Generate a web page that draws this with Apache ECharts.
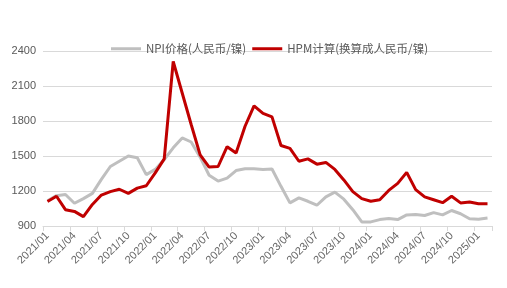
<!DOCTYPE html>
<html>
<head>
<meta charset="utf-8">
<script src="https://cdn.jsdelivr.net/npm/echarts@6/dist/echarts.min.js"></script>
<style>html,body{margin:0;padding:0;background:#fff;}#c{width:507px;height:288px;}</style>
</head>
<body>
<div id="c"></div>
<script>
var categories = [];
(function(){ for (var y = 2021; y <= 2025; y++) for (var m = 1; m <= 12; m++) { if (y === 2025 && m > 2) break; categories.push(y + '/' + (m < 10 ? '0' + m : m)); } })();

var npiName = 'NPI价格(人民币/镍)';
var hpmName = 'HPM计算(换算成人民币/镍)';

var npiValues = [1115, 1160, 1170, 1095, 1135, 1180, 1300, 1410, 1455, 1500, 1485, 1340,
                 1385, 1470, 1570, 1655, 1620, 1490, 1335, 1285, 1310, 1375, 1390, 1390,
                 1385, 1388, 1240, 1098, 1141, 1112, 1078, 1150, 1190, 1130, 1040, 935,
                 935, 955, 965, 955, 995, 998, 990, 1015, 995, 1033, 1005, 962,
                 958, 968];
var hpmValues = [1110, 1155, 1040, 1025, 980, 1085, 1165, 1195, 1215, 1180, 1225, 1245,
                 1355, 1475, 2310, 2040, 1770, 1510, 1405, 1410, 1580, 1525, 1755, 1930,
                 1865, 1835, 1590, 1565, 1455, 1475, 1430, 1445, 1385, 1295, 1195, 1135,
                 1112, 1125, 1205, 1265, 1360, 1212, 1150, 1125, 1100, 1155, 1098, 1105,
                 1090, 1090];
var yTicks = {min: 900, max: 2400, interval: 300};

var chart = echarts.init(document.getElementById('c'), null, {renderer: 'canvas'});
chart.setOption({
  animation: false,
  backgroundColor: '#ffffff',
  textStyle: {fontFamily: 'Liberation Sans, Arial, sans-serif'},
  legend: {
    top: 38,
    left: 106,
    itemWidth: 30,
    itemHeight: 3,
    itemGap: 6,
    icon: 'rect',
    textStyle: {color: '#595959', fontSize: 11.5, fontFamily: '"Noto Sans CJK SC", sans-serif'},
    data: [npiName, hpmName]
  },
  grid: {left: 43, right: 15, top: 51, bottom: 62, containLabel: false},
  xAxis: {
    type: 'category',
    data: categories,
    boundaryGap: true,
    axisLine: {lineStyle: {color: '#D9D9D9', width: 1}},
    axisTick: {show: true, interval: 2, length: 5, lineStyle: {color: '#D9D9D9'}},
    axisLabel: {interval: 2, rotate: 45, color: '#666666', fontSize: 11, margin: 8}
  },
  yAxis: {
    type: 'value',
    min: yTicks.min, max: yTicks.max, interval: yTicks.interval,
    axisLine: {show: false},
    axisTick: {show: false},
    axisLabel: {color: '#595959', fontSize: 11, margin: 7, formatter: function (v) { return String(v); }},
    splitLine: {lineStyle: {color: '#D9D9D9', width: 1}}
  },
  series: [
    {name: npiName, type: 'line', data: npiValues, showSymbol: false, symbol: 'none',
     lineStyle: {color: '#BFBFBF', width: 3}, itemStyle: {color: '#BFBFBF'}},
    {name: hpmName, type: 'line', data: hpmValues, showSymbol: false, symbol: 'none',
     lineStyle: {color: '#C00000', width: 3}, itemStyle: {color: '#C00000'}}
  ]
});
</script>
</body>
</html>
